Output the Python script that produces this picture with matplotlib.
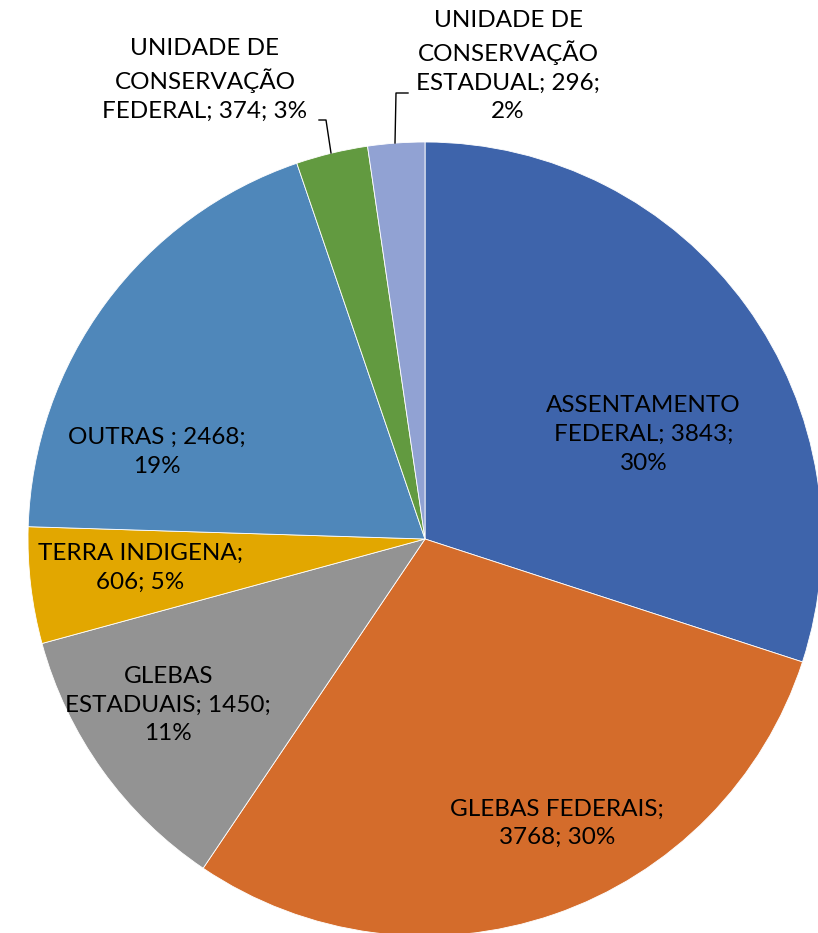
import numpy as np
import matplotlib.pyplot as plt

# categories and values
labels = ["ASSENTAMENTO\nFEDERAL; 3843;\n30%",
          "GLEBAS FEDERAIS;\n3768; 30%",
          "GLEBAS\nESTADUAIS; 1450;\n11%",
          "TERRA INDIGENA;\n606; 5%",
          "OUTRAS ; 2468;\n19%",
          "UNIDADE DE\nCONSERVAÇÃO\nFEDERAL; 374; 3%",
          "UNIDADE DE\nCONSERVAÇÃO\nESTADUAL; 296;\n2%"]
values = [3843, 3768, 1450, 606, 2468, 374, 296]
colors = ["#3E64AB", "#D46C2B", "#939393", "#E2A700", "#4F87BA", "#629A40", "#91A2D3"]

W, H = 818, 933
fig = plt.figure(figsize=(W / 100, H / 100), dpi=100)
ax = fig.add_axes([0, 0, 1, 1])

cx, cy, R = 425, H - 539, 397
wedges, _ = ax.pie(values, colors=colors, startangle=90, counterclock=False,
                   center=(cx, cy), radius=R, frame=True,
                   wedgeprops=dict(edgecolor="white", linewidth=0.6))
ax.set_xlim(0, W)
ax.set_ylim(0, H)
ax.set_aspect("equal")
ax.axis("off")

font = dict(family=["Lato", "DejaVu Sans"], fontsize=17.5, color="black",
            ha="center", va="center", linespacing=1.45)

# inside labels: (radius fraction, angle in degrees) relative to center
inside = {0: (0.61, 25.6), 1: (0.79, -65.1), 2: (0.77, -147.1),
          3: (0.72, -174.2), 4: (0.71, 162.0)}
for i, (rf, a) in inside.items():
    t = np.deg2rad(a)
    ax.text(cx + rf * R * np.cos(t), cy + rf * R * np.sin(t), labels[i], **font)

# outside labels with leader lines
ax.text(205, H - 80, labels[5], **font)
ax.plot([319, 326, 331], [H - 120, H - 120, H - 153], color="black", lw=1)
ax.text(508, H - 66, labels[6], **font)
ax.plot([408, 396, 395], [H - 93, H - 93, H - 143], color="black", lw=1)

fig.savefig("out.png", dpi=100)
